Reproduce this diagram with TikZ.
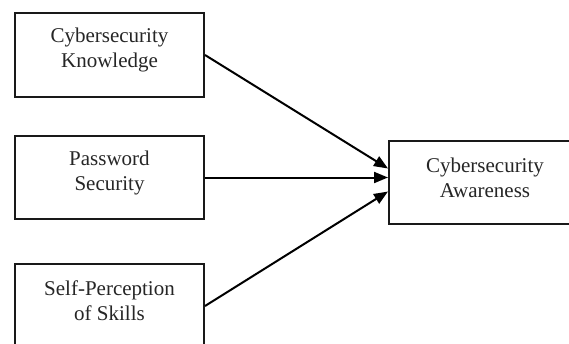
\documentclass[tikz,border=0pt]{standalone}
\usepackage{fontspec}
\setmainfont{Liberation Serif}
\usetikzlibrary{arrows.meta}
\begin{document}
\begin{tikzpicture}[x=1pt,y=-1pt,
  box/.style={draw=black!90, line width=2pt, fill=white, minimum width=189pt, minimum height=84pt, inner sep=0pt, anchor=north west},
  lbl/.style={font=\fontsize{21}{25}\selectfont, align=center, text=black!85, inner sep=0pt, yshift=5pt},
  conn/.style={line width=2pt, -{Triangle[length=14pt,width=11pt]}}]
\useasboundingbox (0,0) rectangle (569,343);
\clip (0,0) rectangle (569,343);
\node[box] (kn) at (14,12) {};
\node[box, minimum height=83pt] (ps) at (14,135) {};
\node[box] (sp) at (14,263) {};
\node[box, minimum width=192pt, minimum height=83pt] (aw) at (388,140) {};
\node[lbl] (knt) at (kn.center) {Cybersecurity\\Knowledge};
\node[lbl] (pst) at (ps.center) {Password\\Security};
\node[lbl] (spt) at (sp.center) {Self-Perception\\of Skills};
\node[lbl] (awt) at (aw.center) {Cybersecurity\\Awareness};
\draw[conn] (kn.east) -- ([yshift=14pt]aw.west);
\draw[conn] (ps.east) -- (ps.east -| aw.west);
\draw[conn] (sp.east) -- ([yshift=-9pt]aw.west);
\end{tikzpicture}
\end{document}
